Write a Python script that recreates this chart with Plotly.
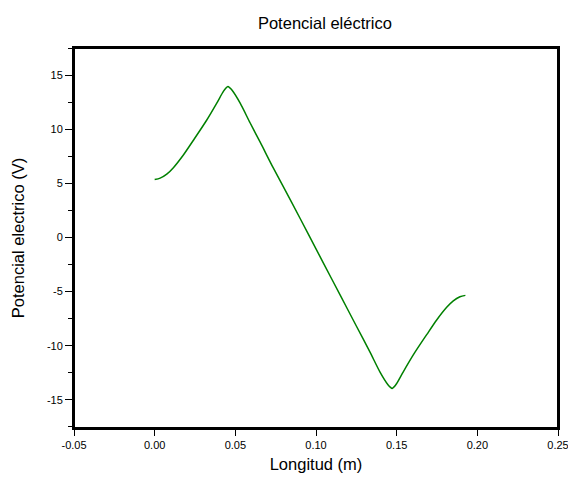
import plotly.graph_objects as go

# Data
longitud_m = [0.0, 0.0034, 0.0075, 0.0116, 0.0178, 0.0240, 0.0323, 0.0385, 0.0426, 0.0442,
              0.0454, 0.0466, 0.0480, 0.0530, 0.0592, 0.0654, 0.0736, 0.085, 0.095, 0.105,
              0.115, 0.125, 0.1334, 0.1396, 0.1446, 0.1460, 0.1472, 0.1484, 0.1500, 0.1541,
              0.1603, 0.1686, 0.1748, 0.1810, 0.1851, 0.1892, 0.1926]
potencial_v = [5.35, 5.48, 5.85, 6.45, 7.62, 8.98, 10.85, 12.41, 13.49, 13.80,
               13.95, 13.82, 13.60, 12.41, 10.57, 8.80, 6.40, 3.22, 0.37, -2.48,
               -5.33, -8.18, -10.57, -12.41, -13.60, -13.82, -13.95, -13.80, -13.49, -12.41,
               -10.85, -8.98, -7.62, -6.45, -5.85, -5.48, -5.35]

x_ticks = [-0.05, 0.00, 0.05, 0.10, 0.15, 0.20, 0.25]
x_tick_labels = ["-0.05", "0.00", "0.05", "0.10", "0.15", "0.20", "0.25"]
y_ticks = [-15, -10, -5, 0, 5, 10, 15]
y_tick_labels = ["-15", "-10", "-5", "0", "5", "10", "15"]
y_minor_ticks = [-17.5, -12.5, -7.5, -2.5, 2.5, 7.5, 12.5, 17.5]

FONT = "Liberation Sans, Arial, sans-serif"

fig = go.Figure()
fig.add_trace(go.Scatter(
    x=longitud_m, y=potencial_v, mode="lines",
    line=dict(color="#008000", width=1.5, shape="spline", smoothing=0.8),
    showlegend=False, hoverinfo="x+y",
))

fig.add_shape(type="rect", xref="paper", yref="paper", x0=0, y0=0, x1=1, y1=1,
              line=dict(color="black", width=2), layer="above")

fig.update_layout(
    width=568, height=480,
    margin=dict(l=74, r=10, t=48, b=52),
    paper_bgcolor="white", plot_bgcolor="white",
    font=dict(family=FONT, color="black"),
    title=dict(text="Potencial eléctrico", x=0.572, xanchor="center",
               y=1 - 23.5 / 480, yanchor="middle",
               font=dict(size=16.5, family=FONT, color="black")),
    xaxis=dict(
        range=[-0.05, 0.25], tickvals=x_ticks, ticktext=x_tick_labels,
        showgrid=False, zeroline=False, showline=True, linecolor="black", linewidth=2,
        mirror=True, ticks="outside", ticklen=6, tickwidth=1, tickcolor="black",
        ticklabeloverflow="allow",
        tickfont=dict(size=11, family=FONT, color="black"),
        title=dict(text="Longitud (m)", standoff=8, font=dict(size=16.5, family=FONT, color="black")),
        automargin=False,
    ),
    yaxis=dict(
        range=[-17.6, 17.5], tickvals=y_ticks, ticktext=y_tick_labels,
        showgrid=False, zeroline=False, showline=True, linecolor="black", linewidth=2,
        mirror=True, ticks="outside", ticklen=7, tickwidth=1, tickcolor="black",
        tickfont=dict(size=11, family=FONT, color="black"),
        minor=dict(tickvals=y_minor_ticks, ticks="outside",
                   ticklen=4, tickwidth=1, tickcolor="black", showgrid=False),
        title=dict(text="Potencial electrico (V)", standoff=18, font=dict(size=16.5, family=FONT, color="black")),
        automargin=False,
    ),
)

fig.write_html("out.html")
